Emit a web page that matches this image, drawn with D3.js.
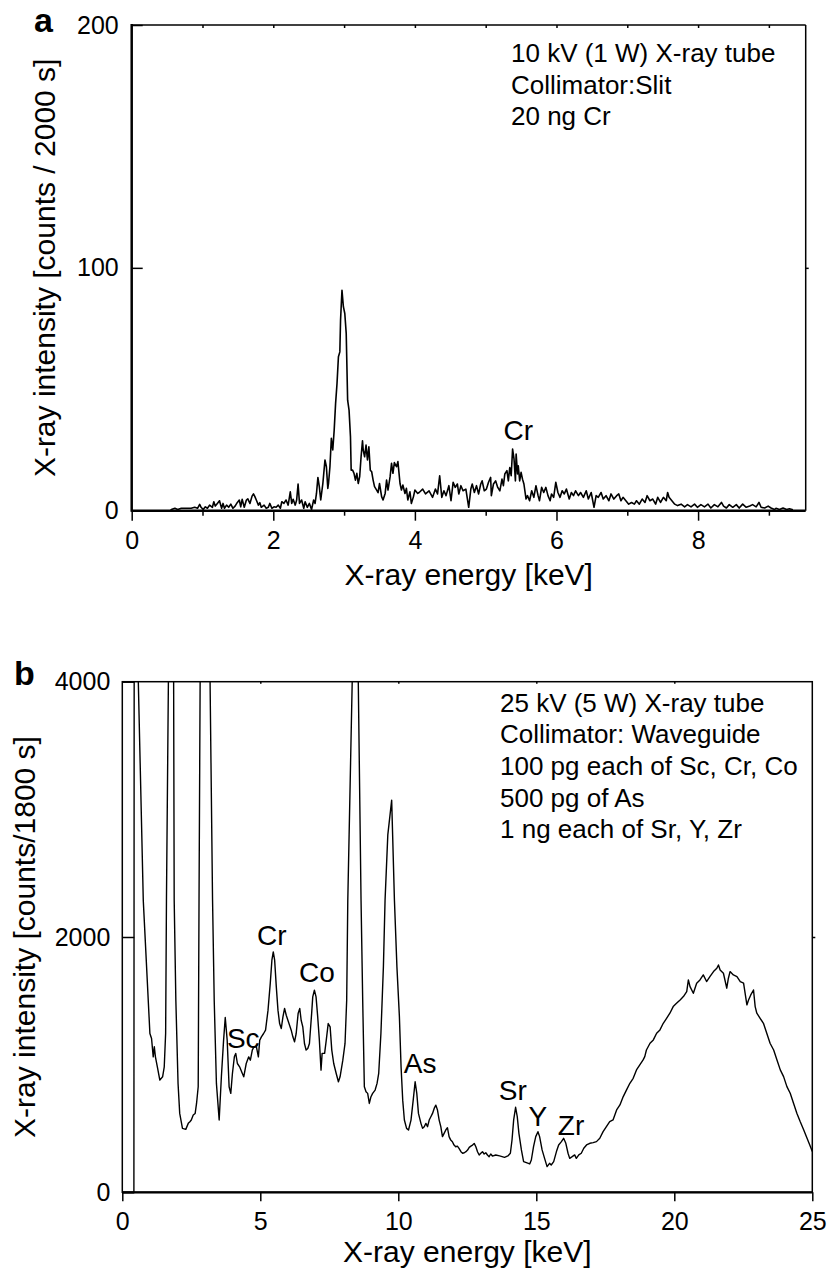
<!DOCTYPE html>
<html>
<head>
<meta charset="utf-8">
<script src="https://cdn.jsdelivr.net/npm/d3@7"></script>
<style>
  body { margin: 0; background: #fff; }
  svg text { font-family: "Liberation Sans", Arial, "DejaVu Sans", sans-serif; fill: #000; }
</style>
</head>
<body>
<div id="chart"></div>
<script>
// ---- datos ----
// panel a: energia [keV], cuentas / 2000 s
var spectrumA = [
  [0,0],[0.55,0],[0.56,0.5],[0.61,1],[0.65,0.5],[0.7,1],[0.75,1],[0.8,1],[0.84,1],[0.89,1.4],[0.93,1],
  [0.96,2.6],[0.98,1.4],[1.01,0.5],[1.04,1.6],[1.07,1],[1.1,2.3],[1.14,1.4],[1.16,3.7],[1.18,1.9],[1.21,3],
  [1.24,4.1],[1.27,1],[1.29,3],[1.31,1],[1.34,2.3],[1.37,1.4],[1.4,2.7],[1.43,1],[1.46,1.9],[1.49,3.3],
  [1.52,4.4],[1.54,1.6],[1.56,4.7],[1.59,1.4],[1.62,4.4],[1.64,4.9],[1.67,3],[1.7,6],[1.72,6.9],[1.74,5.8],
  [1.76,4.4],[1.79,2.3],[1.81,3.3],[1.83,1.4],[1.87,2.3],[1.9,1],[1.93,1.4],[1.95,3],[1.98,1],[2.01,1.6],
  [2.04,1.4],[2.07,2.3],[2.1,1],[2.12,3.7],[2.15,3],[2.18,4.4],[2.21,2.3],[2.24,7.8],[2.26,3],[2.28,4.7],
  [2.31,2.3],[2.33,4.4],[2.35,11],[2.37,3],[2.4,4.4],[2.43,1],[2.45,3.7],[2.48,1.4],[2.51,3],[2.54,0.5],
  [2.57,4.4],[2.59,3],[2.61,7.1],[2.63,13.7],[2.65,9.9],[2.67,4.4],[2.7,11.2],[2.73,20.9],[2.75,18.1],
  [2.77,9.2],[2.78,11.2],[2.8,18.1],[2.82,29.8],[2.84,25],[2.86,33.2],[2.88,44.2],[2.9,52.4],[2.92,63.4],
  [2.94,65.4],[2.95,78.5],[2.97,90.8],[2.99,84],[3.01,81.2],[3.03,73],[3.05,45.5],[3.07,41.4],[3.09,30.5],
  [3.1,16.7],[3.12,16.7],[3.14,15.4],[3.16,12.6],[3.18,15.4],[3.2,11.2],[3.22,14],[3.24,22.2],[3.26,28.8],
  [3.27,25],[3.29,22.2],[3.31,27],[3.33,20.9],[3.35,26.3],[3.37,16.7],[3.39,16],[3.41,12.6],[3.43,9.9],
  [3.46,8.5],[3.48,7.4],[3.5,11.2],[3.53,5.8],[3.55,4.4],[3.58,7.1],[3.6,12.6],[3.62,8.5],[3.65,14],
  [3.67,19.5],[3.69,15.4],[3.71,19.8],[3.74,18.1],[3.76,20.2],[3.79,11.2],[3.81,8.5],[3.83,10.6],[3.86,7.1],
  [3.88,9.2],[3.9,4.4],[3.93,7.8],[3.95,3],[3.98,5.8],[4.0,8.5],[4.04,7.1],
  [4.06,7.5],[4.11,8.9],[4.15,6.9],[4.2,8.2],[4.25,5.5],[4.29,8.9],[4.32,6.9],[4.35,14.4],[4.38,5.5],
  [4.41,8.2],[4.44,6.2],[4.48,10.3],[4.51,4.1],[4.54,11.7],[4.57,9.6],[4.6,11],[4.62,6.9],[4.65,10.3],
  [4.68,8.2],[4.72,8.9],[4.76,1.4],[4.79,8.9],[4.81,11],[4.84,7.5],[4.87,10.3],[4.9,6.9],[4.93,11],
  [4.95,12.3],[4.98,8.2],[5.01,8.9],[5.04,11.7],[5.07,13.7],[5.08,6.2],[5.11,11],[5.14,12.3],[5.17,9.6],
  [5.2,8.2],[5.23,13],[5.25,10.3],[5.27,15.1],[5.3,16.5],[5.32,12.3],[5.34,17.8],[5.36,14.4],[5.38,25.4],
  [5.4,21.3],[5.42,12.3],[5.43,23.3],[5.45,15.1],[5.46,18.5],[5.48,12.3],[5.5,15.8],[5.52,13],[5.54,11],
  [5.57,4.8],[5.59,6.2],[5.62,4.1],[5.65,8.2],[5.68,5.5],[5.71,10.3],[5.74,6.2],[5.76,4.1],[5.79,9.6],
  [5.82,7.5],[5.85,9.6],[5.88,6.2],[5.91,4.1],[5.93,6.9],[5.96,5.5],[5.99,11.7],[6.02,7.5],[6.05,5.5],
  [6.08,8.2],[6.11,6.9],[6.14,8.9],[6.18,4.8],[6.21,7.5],[6.24,6.2],[6.27,8.2],[6.31,6.2],[6.34,7.5],
  [6.38,5.5],[6.42,8.2],[6.45,4.8],[6.49,7.5],[6.53,1.4],[6.56,6.2],[6.59,5.5],[6.63,7.5],[6.66,4.8],
  [6.7,6.2],[6.74,4.1],[6.77,6.9],[6.81,4.8],[6.85,6.2],[6.88,6.9],[6.91,4.1],[6.94,5.5],[6.98,4.1],
  [7.02,2.7],[7.06,3.4],[7.1,2.7],[7.13,4.1],[7.17,2.7],[7.21,4.8],[7.25,3.4],[7.28,6.2],[7.32,4.1],
  [7.36,4.8],[7.4,2.7],[7.43,5.5],[7.47,3.4],[7.51,5.5],[7.55,4.1],[7.57,7.5],[7.59,5.5],[7.63,4.1],
  [7.67,2.7],[7.71,2.1],[7.76,2.7],[7.81,1.6],[7.85,2.5],[7.9,1.6],[7.95,2.7],[7.99,1.4],[8.04,2.5],
  [8.09,1.6],[8.14,2.7],[8.18,1.1],[8.23,2.5],[8.28,1.6],[8.33,3.4],[8.36,1.9],[8.4,1.1],[8.44,2.5],
  [8.49,1.4],[8.54,2.5],[8.58,1.1],[8.63,2.7],[8.68,1.4],[8.73,1.9],[8.77,2.5],[8.82,1.6],[8.86,3.4],
  [8.89,1.4],[8.94,1.1],[8.99,1.9],[9.03,1.1],[9.08,0.5],[9.1,1],[9.15,0.5],[9.2,1.1],[9.25,0.5],
  [9.29,0.8],[9.34,0.4]
];

// panel b: energia [keV], cuentas / 1800 s (los picos grandes salen de escala)
var spectrumB = [
  [0,0],[0.42,0],[0.43,4000],[0.5,4800],[0.58,4000],[0.76,2287],[0.88,1766],[1.0,1244],[1.06,1205],
  [1.12,1061],[1.16,1140],[1.2,1061],[1.27,983],[1.36,879],[1.46,905],[1.52,983],[1.57,1244],[1.6,2287],
  [1.67,4000],[1.76,5200],[1.86,4000],[1.88,2287],[1.94,1505],[2.02,853],[2.08,618],[2.18,501],[2.3,493],
  [2.39,540],[2.45,553],[2.5,566],[2.57,605],[2.64,618],[2.69,696],[2.75,827],[2.78,2287],[2.82,4000],
  [3.0,6000],[3.18,4000],[3.27,2287],[3.33,1505],[3.41,853],[3.51,566],[3.59,905],[3.67,1192],[3.73,1369],
  [3.8,1192],[3.87,827],[3.93,775],[3.99,931],[4.06,1061],[4.11,1088],[4.17,1009],[4.25,983],[4.35,931],
  [4.4,905],[4.49,1009],[4.58,1061],[4.64,1035],[4.71,1114],[4.77,1140],[4.86,1140],[4.93,1061],[4.98,1192],
  [5.04,1218],[5.12,1244],[5.19,1270],[5.28,1427],[5.36,1635],[5.42,1818],[5.47,1883],[5.52,1818],
  [5.58,1609],[5.64,1427],[5.7,1322],[5.76,1283],[5.82,1374],[5.88,1440],[5.94,1387],[6.0,1348],[6.06,1309],
  [6.12,1270],[6.18,1218],[6.24,1179],[6.3,1244],[6.37,1400],[6.43,1440],[6.48,1348],[6.54,1296],[6.6,1166],
  [6.66,1114],[6.72,1127],[6.78,1166],[6.86,1400],[6.9,1531],[6.96,1583],[7.02,1531],[7.08,1374],[7.14,1192],
  [7.2,957],[7.24,1088],[7.33,1088],[7.39,1192],[7.46,1322],[7.53,1296],[7.59,1114],[7.66,1009],[7.75,931],
  [7.83,866],[7.89,905],[7.99,1035],[8.07,1166],[8.13,1505],[8.17,2287],[8.33,4000],[8.44,5500],[8.55,4000],
  [8.65,2287],[8.71,1505],[8.77,827],[8.83,788],[8.89,775],[8.95,696],[9.01,749],[9.07,775],[9.16,801],
  [9.23,853],[9.29,931],[9.37,1244],[9.46,1766],[9.52,2287],[9.62,2800],[9.76,3072],[9.86,2287],[9.95,1766],
  [10.04,1374],[10.1,983],[10.16,722],[10.22,566],[10.3,501],[10.37,488],[10.46,566],[10.54,722],[10.61,866],
  [10.67,775],[10.73,618],[10.82,540],[10.88,501],[10.94,514],[11.0,540],[11.06,514],[11.12,566],[11.18,592],
  [11.24,618],[11.3,657],[11.36,683],[11.42,644],[11.48,566],[11.54,514],[11.6,436],[11.66,462],[11.72,488],
  [11.78,506],[11.84,436],[11.9,409],[11.96,396],[12.02,370],[12.08,357],[12.14,362],[12.2,344],[12.27,318],
  [12.33,305],[12.39,310],[12.45,318],[12.51,331],[12.57,352],[12.63,362],[12.69,370],[12.75,383],[12.81,357],
  [12.87,318],[12.93,292],[12.99,305],[13.05,318],[13.11,300],[13.17,310],[13.23,292],[13.29,279],[13.35,300],
  [13.41,284],[13.53,292],[13.67,285],[13.85,274],[13.97,285],[14.06,306],[14.12,410],[14.18,567],[14.25,666],
  [14.31,593],[14.37,462],[14.46,332],[14.54,240],[14.64,232],[14.76,222],[14.82,253],[14.9,358],[14.98,436],
  [15.06,475],[15.12,436],[15.21,332],[15.3,266],[15.39,201],[15.48,227],[15.54,214],[15.63,240],[15.73,319],
  [15.81,371],[15.91,397],[15.99,423],[16.07,384],[16.15,306],[16.21,266],[16.3,279],[16.39,293],[16.45,266],
  [16.54,293],[16.63,306],[16.72,345],[16.82,371],[16.94,384],[17.06,389],[17.18,397],[17.3,423],[17.42,475],
  [17.54,515],[17.66,554],[17.78,567],[17.91,645],[18.03,684],[18.15,750],[18.27,802],[18.39,854],[18.51,893],
  [18.63,959],[18.75,998],[18.87,1037],[18.93,1063],[18.99,1115],[19.12,1168],[19.24,1194],[19.36,1246],
  [19.48,1272],[19.6,1324],[19.72,1363],[19.84,1403],[19.96,1455],[20.08,1481],[20.21,1507],[20.33,1533],
  [20.45,1572],[20.51,1664],[20.57,1611],[20.69,1559],[20.81,1638],[20.93,1664],[21.05,1703],[21.17,1651],
  [21.29,1690],[21.42,1729],[21.54,1755],[21.6,1781],[21.66,1742],[21.78,1716],[21.9,1599],[21.96,1677],
  [22.02,1729],[22.14,1703],[22.27,1690],[22.39,1651],[22.51,1638],[22.63,1468],[22.69,1507],[22.77,1546],
  [22.87,1585],[22.93,1455],[22.99,1403],[23.11,1363],[23.23,1324],[23.35,1246],[23.47,1168],[23.6,1115],
  [23.72,1037],[23.84,959],[23.96,906],[24.08,828],[24.2,776],[24.32,697],[24.44,619],[24.56,554],[24.69,488],
  [24.81,423],[24.93,358],[25.0,319]
];

var ticksMajorA = [0, 2, 4, 6, 8];
var ticksMinorA = [1, 3, 5, 7, 9];
var ticksYA = [0, 100, 200];
var ticksXB = [0, 5, 10, 15, 20, 25];
var ticksYB = [0, 2000, 4000];

var infoA = ["10 kV (1 W) X-ray tube", "Collimator:Slit", "20 ng Cr"];
var infoB = ["25 kV (5 W) X-ray tube", "Collimator: Waveguide", "100 pg each of Sc, Cr, Co",
             "500 pg of As", "1 ng each of Sr, Y, Zr"];

var W = 829, H = 1273;
var fuente = "'Liberation Sans', Arial, 'DejaVu Sans', sans-serif";
var svg = d3.select("#chart").append("svg")
  .attr("width", W).attr("height", H)
  .attr("font-family", fuente);

//escalas
var xA = d3.scaleLinear().domain([0, 9.52]).range([131.7, 805.7]);
var yA = d3.scaleLinear().domain([0, 200]).range([510.7, 25]);
var xB = d3.scaleLinear().domain([0, 25]).range([122.3, 812.3]);
var yB = d3.scaleLinear().domain([0, 4000]).range([1192.3, 681.7]);

var tickFont = 25;
var fmt = d3.format("d");

function estiloEje(g) {
  g.attr("font-family", fuente);
  g.select(".domain").remove();
  g.selectAll("line").attr("stroke", "#000").attr("stroke-width", 1.5);
  g.selectAll("text").style("font-size", tickFont + "px").attr("fill", "#000");
}

//************* panel a *************
var gA = svg.append("g");

// marco
gA.append("line").attr("x1", xA(0)).attr("x2", xA(9.52)).attr("y1", yA(200)).attr("y2", yA(200))
  .attr("stroke", "#000").attr("stroke-width", 1.5);
gA.append("line").attr("x1", xA(9.52)).attr("x2", xA(9.52)).attr("y1", yA(200)).attr("y2", yA(0))
  .attr("stroke", "#000").attr("stroke-width", 1.5);

gA.append("g").attr("transform", "translate(0," + yA(0) + ")")
  .call(d3.axisBottom(xA).tickValues(ticksMajorA).tickSize(10).tickPadding(11).tickFormat(fmt))
  .call(estiloEje);
gA.append("g").attr("transform", "translate(0," + yA(0) + ")")
  .call(d3.axisBottom(xA).tickValues(ticksMinorA.filter(d => d < 9.52)).tickSize(5).tickFormat(""))
  .call(estiloEje);
gA.append("g").attr("transform", "translate(0," + yA(200) + ")")
  .call(d3.axisBottom(xA).tickValues(d3.range(1, 10)).tickSize(3).tickFormat(""))
  .call(estiloEje);
gA.append("g").attr("transform", "translate(" + xA(0) + ",0)")
  .call(d3.axisLeft(yA).tickValues(ticksYA).tickSize(-11).tickPadding(13).tickFormat(fmt))
  .call(estiloEje);
gA.append("g").attr("transform", "translate(" + xA(9.52) + ",0)")
  .call(d3.axisRight(yA).tickValues([100]).tickSize(3).tickFormat(""))
  .call(estiloEje);

// ejes gruesos
gA.append("line").attr("x1", xA(0)).attr("x2", xA(9.52)).attr("y1", yA(0)).attr("y2", yA(0))
  .attr("stroke", "#000").attr("stroke-width", 2.5);
gA.append("line").attr("x1", xA(0)).attr("x2", xA(0)).attr("y1", yA(200) - 1).attr("y2", yA(0) + 1)
  .attr("stroke", "#000").attr("stroke-width", 2.5);

gA.append("path").datum(spectrumA)
  .attr("fill", "none").attr("stroke", "#000").attr("stroke-width", 1.6).attr("stroke-linejoin", "round")
  .attr("d", d3.line().x(d => xA(d[0])).y(d => yA(d[1])));

gA.append("text").attr("x", 34).attr("y", 32).attr("font-family", fuente)
  .style("font-size", "34px").style("font-weight", "bold").text("a");

gA.append("text").attr("x", (xA(0) + xA(9.52)) / 2).attr("y", 585).attr("text-anchor", "middle")
  .style("font-size", "30px").text("X-ray energy [keV]");
gA.append("text").attr("transform", "translate(55," + ((yA(0) + yA(200)) / 2) + ") rotate(-90)")
  .attr("text-anchor", "middle").style("font-size", "30px").text("X-ray intensity [counts / 2000 s]");

gA.selectAll(".info").data(infoA).join("text")
  .attr("x", 511).attr("y", (d, i) => 62 + i * 31.5)
  .style("font-size", "26px").text(d => d);

gA.append("text").attr("x", xA(5.46)).attr("y", yA(29.1)).attr("text-anchor", "middle")
  .style("font-size", "28px").text("Cr");

//************* panel b *************
var gB = svg.append("g");

svg.append("clipPath").attr("id", "clipB").append("rect")
  .attr("x", xB(0)).attr("y", yB(4000)).attr("width", xB(25) - xB(0)).attr("height", yB(0) - yB(4000));

gB.append("rect").attr("x", xB(0)).attr("y", yB(4000)).attr("width", xB(25) - xB(0)).attr("height", yB(0) - yB(4000))
  .attr("fill", "none").attr("stroke", "#000").attr("stroke-width", 1.5);

gB.append("g").attr("transform", "translate(0," + yB(0) + ")")
  .call(d3.axisBottom(xB).tickValues(ticksXB).tickSize(9).tickPadding(11).tickFormat(fmt))
  .call(estiloEje);
gB.append("g").attr("transform", "translate(0," + yB(4000) + ")")
  .call(d3.axisBottom(xB).tickValues([5, 10, 15, 20]).tickSize(2).tickFormat(""))
  .call(estiloEje);
gB.append("g").attr("transform", "translate(" + xB(0) + ",0)")
  .call(d3.axisLeft(yB).tickValues(ticksYB).tickSize(-12).tickPadding(12).tickFormat(fmt))
  .call(estiloEje);
gB.append("g").attr("transform", "translate(" + xB(25) + ",0)")
  .call(d3.axisRight(yB).tickValues([2000]).tickSize(3).tickFormat(""))
  .call(estiloEje);

gB.append("line").attr("x1", xB(0)).attr("x2", xB(25)).attr("y1", yB(0)).attr("y2", yB(0))
  .attr("stroke", "#000").attr("stroke-width", 2.2);

gB.append("path").datum(spectrumB).attr("clip-path", "url(#clipB)")
  .attr("fill", "none").attr("stroke", "#000").attr("stroke-width", 1.4).attr("stroke-linejoin", "round")
  .attr("d", d3.line().x(d => xB(d[0])).y(d => yB(d[1])));

gB.append("text").attr("x", 14).attr("y", 685).attr("font-family", fuente)
  .style("font-size", "34px").style("font-weight", "bold").text("b");

gB.append("text").attr("x", (xB(0) + xB(25)) / 2).attr("y", 1262).attr("text-anchor", "middle")
  .style("font-size", "30px").text("X-ray energy [keV]");
gB.append("text").attr("transform", "translate(35," + ((yB(0) + yB(4000)) / 2) + ") rotate(-90)")
  .attr("text-anchor", "middle").style("font-size", "30px").text("X-ray intensity [counts/1800 s]");

gB.selectAll(".info").data(infoB).join("text")
  .attr("x", 500).attr("y", (d, i) => 711.7 + i * 31.6)
  .style("font-size", "26px").text(d => d);

// etiquetas de picos
var etiquetasB = [
  {t: "Sc", e: 3.79, c: 1130, a: "start"},
  {t: "Cr", e: 5.42, c: 1937, a: "middle"},
  {t: "Co", e: 7.05, c: 1647, a: "middle"},
  {t: "As", e: 10.79, c: 934, a: "middle"},
  {t: "Sr", e: 14.15, c: 722, a: "middle"},
  {t: "Y", e: 15.06, c: 519, a: "middle"},
  {t: "Zr", e: 16.26, c: 448, a: "middle"}
];
gB.selectAll(".pico").data(etiquetasB).join("text")
  .attr("x", d => xB(d.e)).attr("y", d => yB(d.c)).attr("text-anchor", d => d.a)
  .style("font-size", "28px").text(d => d.t);
</script>
</body>
</html>
